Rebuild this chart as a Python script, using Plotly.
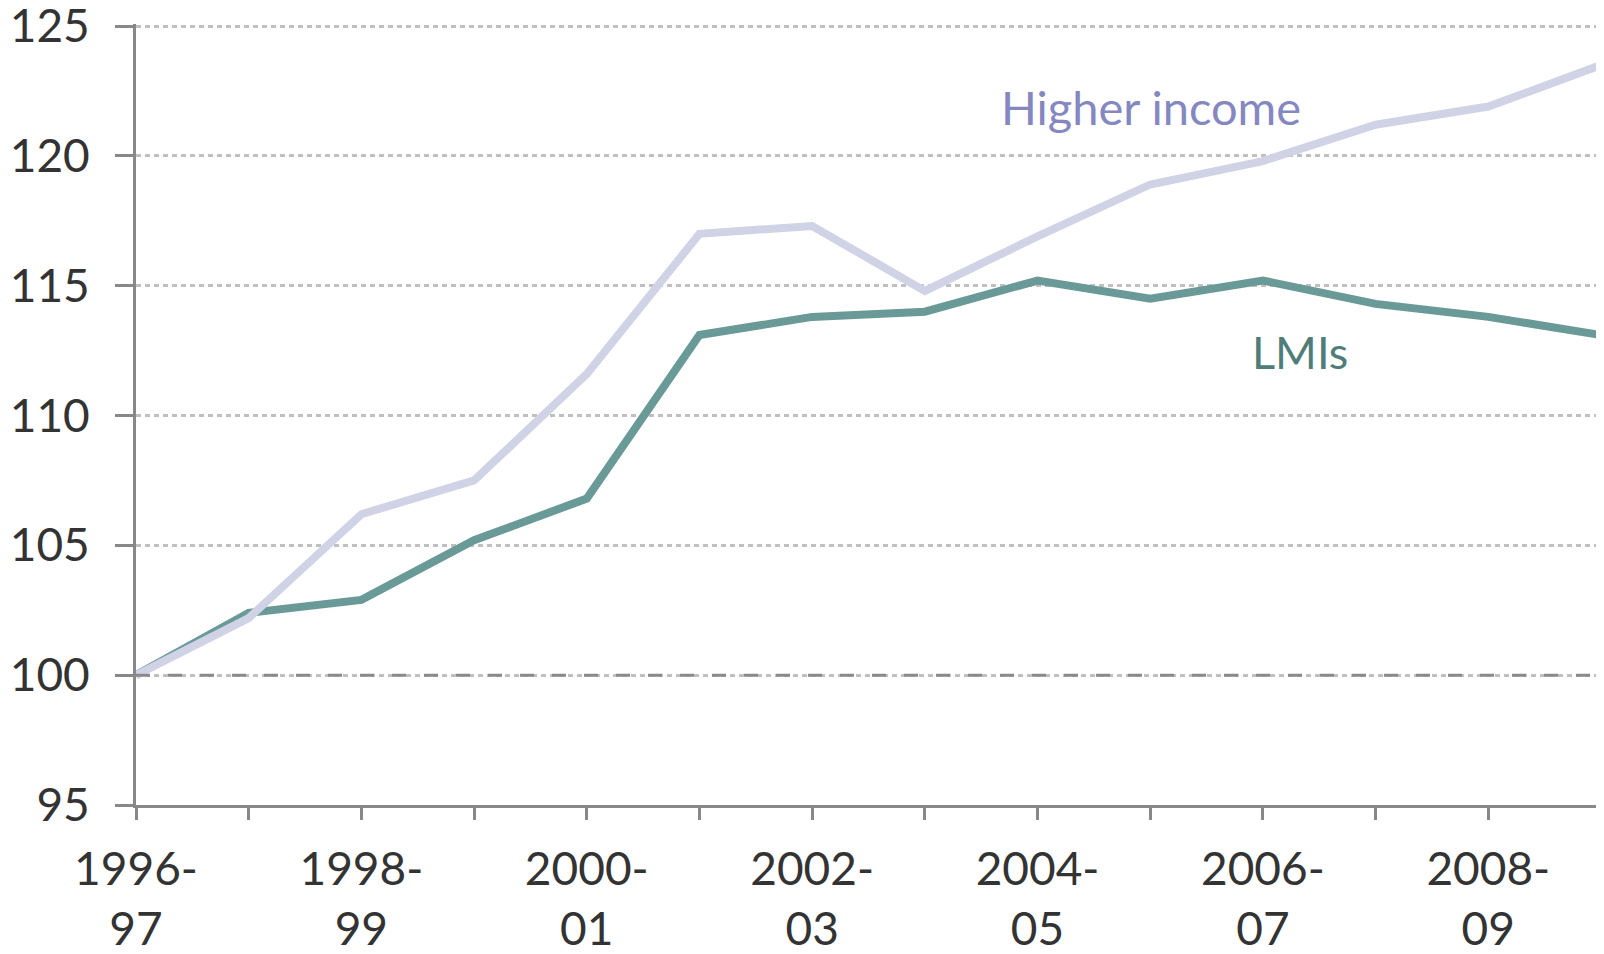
import plotly.graph_objects as go

years = ["1996-97", "1997-98", "1998-99", "1999-00", "2000-01", "2001-02", "2002-03",
         "2003-04", "2004-05", "2005-06", "2006-07", "2007-08", "2008-09", "2009-10"]
higher_income = [100.0, 102.2, 106.2, 107.5, 111.6, 117.0, 117.3,
                 114.8, 116.9, 118.9, 119.8, 121.2, 121.9, 123.5]
lmis = [100.0, 102.4, 102.9, 105.2, 106.8, 113.1, 113.8,
        114.0, 115.2, 114.5, 115.2, 114.3, 113.8, 113.1]
tick_text = [y.replace("-", "-<br>") if i % 2 == 0 else "" for i, y in enumerate(years)]
y_ticks = [95, 100, 105, 110, 115, 120, 125]

FONT = "Lato"
fig = go.Figure()
fig.add_hline(y=100, line=dict(color="#8a8a8a", width=3, dash="14px,18px"), layer="above")
fig.add_trace(go.Scatter(x=years, y=lmis, mode="lines", name="LMIs",
                         line=dict(color="#6A9A97", width=8), cliponaxis=False))
fig.add_trace(go.Scatter(x=years, y=higher_income, mode="lines", name="Higher income",
                         line=dict(color="#D0D2E6", width=8), cliponaxis=False))

fig.add_annotation(x=years[9], y=121.9, text="Higher income", showarrow=False,
                   font=dict(family=FONT, size=47, color="#8588C0"), xanchor="center", yanchor="middle", xshift=1)
fig.add_annotation(x=years[10], y=112.46, text="LMIs", showarrow=False,
                   font=dict(family=FONT, size=45, color="#4E7D7A"), xanchor="center", yanchor="middle", xshift=37)

# the page body adds an 8px margin, so the figure is drawn 8px smaller and shifted
fig.update_layout(
    width=1596, height=946,
    margin=dict(l=128, r=3, t=16, b=149),
    paper_bgcolor="white", plot_bgcolor="white",
    showlegend=False,
    font=dict(family=FONT, size=46, color="#333333"),
)
fig.update_xaxes(
    type="category", range=[0, 13], automargin=False,
    tickmode="array", tickvals=years, ticktext=tick_text,
    showline=True, linecolor="#888888", linewidth=3,
    ticks="outside", ticklen=12, tickwidth=3, tickcolor="#888888",
    showgrid=False, zeroline=False, ticklabelstandoff=10,
    tickfont=dict(family=FONT, size=46, color="#333333"),
)
fig.update_yaxes(
    range=[95, 125.08], tickmode="array", tickvals=y_ticks, automargin=False,
    showline=True, linecolor="#888888", linewidth=3,
    ticks="outside", ticklen=18, tickwidth=3, tickcolor="#888888",
    showgrid=True, gridcolor="#C0C0C0", gridwidth=3, griddash="5px,4px",
    zeroline=False, ticklabelstandoff=16, ticklabeloverflow="allow",
    tickfont=dict(family=FONT, size=46, color="#333333"),
)
fig.write_html("out.html")
